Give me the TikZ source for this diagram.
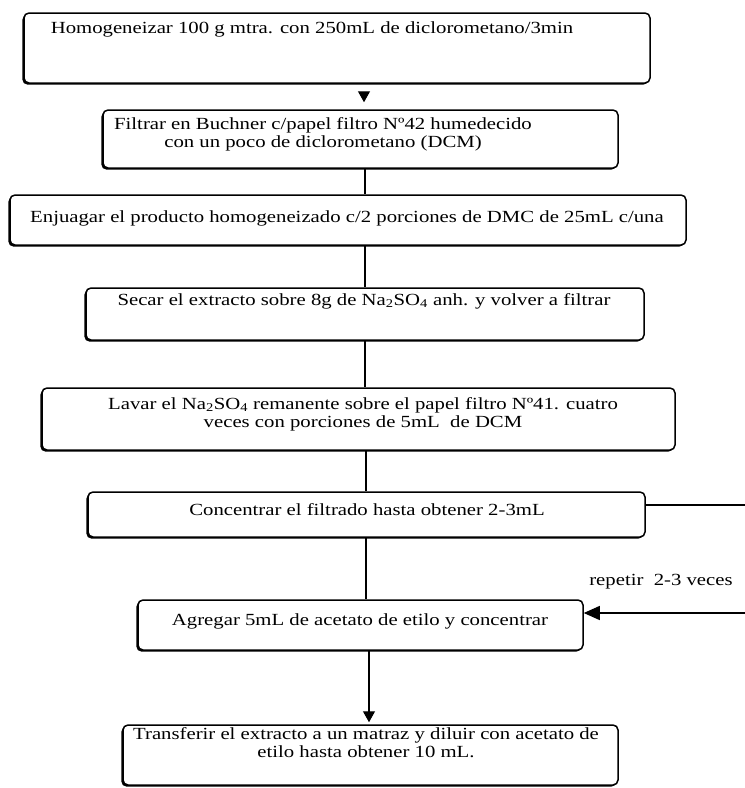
\documentclass[tikz,border=0pt]{standalone}
\usepackage{fontspec}
\setmainfont{Liberation Serif}[FakeStretch=1.22]
\usetikzlibrary{arrows.meta}
\begin{document}
\begin{tikzpicture}[x=1pt,y=-1pt,
  stepbox/.style={draw=black, fill=white, line width=1.5pt, rounded corners=5pt, inner sep=0pt,
    preaction={fill=black, transform canvas={xshift=-1.6pt, yshift=-1.6pt}}},
  txt/.style={inner sep=0pt, font=\fontsize{17}{18}\selectfont, align=center, anchor=base},
  link/.style={draw=black, line width=1.2pt},
  tipdown/.style={link, -{Triangle[length=11pt,width=12pt]}},
  tipleft/.style={link, -{Triangle[length=16pt,width=14pt]}},
]
\useasboundingbox (0,0) rectangle (745,788);

% process steps
\node[stepbox, minimum width=626pt, minimum height=70pt] (b1) at (337,48) {};
\node[stepbox, minimum width=515pt, minimum height=58pt] (b2) at (360.5,139) {};
\node[stepbox, minimum width=676pt, minimum height=50pt] (b3) at (348,220) {};
\node[stepbox, minimum width=558pt, minimum height=52pt] (b4) at (365,314) {};
\node[stepbox, minimum width=633pt, minimum height=62pt] (b5) at (358.5,419) {};
\node[stepbox, minimum width=557pt, minimum height=45pt] (b6) at (366.5,514.5) {};
\node[stepbox, minimum width=445pt, minimum height=50pt] (b7) at (360.5,625) {};
\node[stepbox, minimum width=495pt, minimum height=60pt] (b8) at (370.5,755) {};

% step texts (anchor base = baseline of the last line)
\node[txt] (t1) at (312,33) {Homogeneizar 100 g mtra. con 250mL de diclorometano/3min};
\node[txt] (t2) at (323,147) {Filtrar en Buchner c/papel filtro Nº42 humedecido\\con un poco de diclorometano (DCM)};
\node[txt] (t3) at (347,222) {Enjuagar el producto homogeneizado c/2 porciones de DMC de 25mL c/una};
\node[txt] (t4) at (364,305) {Secar el extracto sobre 8g de Na\textsubscript{2}SO\textsubscript{4} anh. y volver a filtrar};
\node[txt] (t5) at (363,427) {Lavar el Na\textsubscript{2}SO\textsubscript{4} remanente sobre el papel filtro Nº41. cuatro\\veces con porciones de 5mL\ \ de DCM};
\node[txt] (t6) at (367,515) {Concentrar el filtrado hasta obtener 2-3mL};
\node[txt] (t7) at (360,625) {Agregar 5mL de acetato de etilo y concentrar};
\node[txt] (t8) at (366,757) {Transferir el extracto a un matraz y diluir con acetato de\\etilo hasta obtener 10 mL.};
\node[txt] (rep) at (661,585) {repetir\ \ 2-3 veces};

% connector columns and loop ends
\coordinate (c1) at (364,0);
\coordinate (c2) at (365,0);
\coordinate (c3) at (366,0);
\coordinate (c4) at (369,0);
\coordinate (loopA) at (745,505);
\coordinate (loopB) at (745,613);

\draw[tipdown, shorten <=9pt, shorten >=7pt] (b1.south -| c1) -- (b2.north -| c1);
\draw[link] (b2.south -| c2) -- (b3.north -| c2);
\draw[link] (b3.south -| c2) -- (b4.north -| c2);
\draw[link] (b4.south -| c2) -- (b5.north -| c2);
\draw[link] (b5.south -| c3) -- (b6.north -| c3);
\draw[link] (b6.south -| c3) -- (b7.north -| c3);
\draw[tipdown, shorten >=2pt] (b7.south -| c4) -- (b8.north -| c4);

% repeat loop
\draw[link] (loopA -| b6.east) -- (loopA);
\draw[tipleft] (loopB) -- (loopB -| b7.east);
\end{tikzpicture}
\end{document}
